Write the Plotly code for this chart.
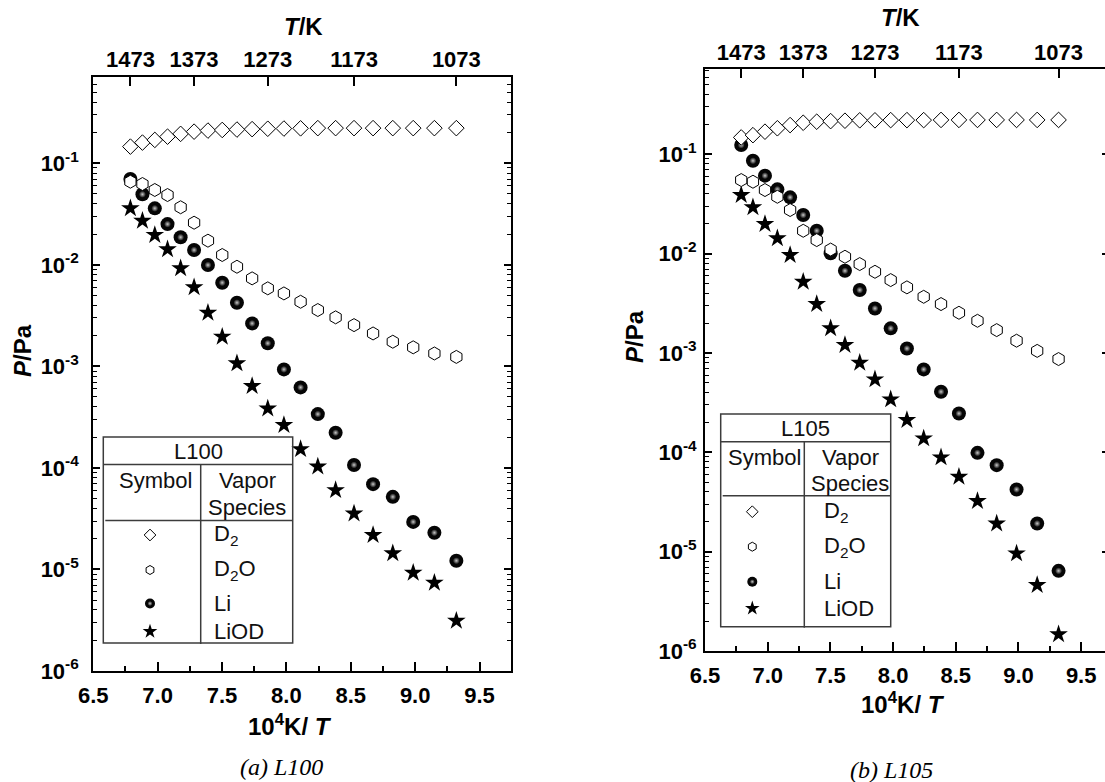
import plotly.graph_objects as go

W, H = 1105, 782

# ---------------- data ----------------
temps_K = [1473, 1453, 1433, 1413, 1393, 1373, 1353, 1333, 1313, 1293, 1273,
           1253, 1233, 1213, 1193, 1173, 1153, 1133, 1113, 1093, 1073]
inv_T = [1e4 / t for t in temps_K]          # 10^4 K / T

top_tick_T = [1473, 1373, 1273, 1173, 1073]
bottom_ticks = [6.5, 7.0, 7.5, 8.0, 8.5, 9.0, 9.5]
decades = [-6, -5, -4, -3, -2, -1]

L100_D2 = [0.146, 0.160, 0.170, 0.183, 0.195, 0.205, 0.210, 0.213, 0.215, 0.217, 0.219,
           0.220, 0.221, 0.222, 0.222, 0.222, 0.222, 0.222, 0.222, 0.222, 0.222]
L100_D2O = [0.0659, 0.0625, 0.0546, 0.0487, 0.0369, 0.0260, 0.0173, 0.0125, 0.00958, 0.00736, 0.00587,
            0.00523, 0.00433, 0.00359, 0.00304, 0.00255, 0.00211, 0.00175, 0.00154, 0.00134, 0.00124]
L100_Li = [0.070, 0.0495, 0.0360, 0.0252, 0.0187, 0.0140, 0.00995, 0.00667, 0.00424, 0.00265, 0.00169,
           0.000934, 0.000621, 0.000339, 0.000222, 0.000107, 6.92e-5, 5.19e-5, 2.94e-5, 2.30e-5, 1.22e-5]
L100_LiOD = [0.0360, 0.0272, 0.0197, 0.0142, 0.00925, 0.00600, 0.00337, 0.00196, 0.00107, 0.000640, 0.000385,
             0.000264, 0.000153, 0.000103, 6.04e-5, 3.56e-5, 2.18e-5, 1.44e-5, 9.27e-6, 7.38e-6, 3.12e-6]

L105_D2 = [0.148, 0.156, 0.169, 0.183, 0.197, 0.208, 0.213, 0.216, 0.218, 0.220, 0.220,
           0.221, 0.221, 0.221, 0.222, 0.222, 0.222, 0.222, 0.222, 0.222, 0.222]
L105_D2O = [0.0551, 0.0530, 0.0437, 0.0374, 0.0275, 0.0170, 0.0137, 0.0110, 0.00931, 0.00786, 0.00657,
            0.00542, 0.00458, 0.00368, 0.00311, 0.00254, 0.00211, 0.00170, 0.00133, 0.00105, 0.000869]
L105_Li = [0.124, 0.0862, 0.0610, 0.0444, 0.0369, 0.0245, 0.0170, 0.0101, 0.00672, 0.00430, 0.00281,
           0.00177, 0.00111, 0.000684, 0.000407, 0.000246, 9.88e-5, 7.43e-5, 4.23e-5, 1.92e-5, 6.41e-6]
L105_LiOD = [0.0389, 0.0293, 0.0199, 0.0143, 0.00968, 0.00521, 0.00311, 0.00177, 0.00120, 0.000796, 0.000542,
             0.000341, 0.000211, 0.000138, 8.89e-5, 5.67e-5, 3.23e-5, 1.92e-5, 9.60e-6, 4.61e-6, 1.47e-6]

species_labels = ["D<sub>2</sub>", "D<sub>2</sub>O", "Li", "LiOD"]
panel_names = ["L100", "L105"]
captions = ["(a) L100", "(b) L105"]

# ---------------- styling ----------------
SANS = "Liberation Sans, Arial, sans-serif"
SERIF = "Liberation Serif, Times New Roman, serif"
BLACK = "#000000"
TICKFONT = dict(family=SANS, size=22, color=BLACK, weight="bold")
TITLEFONT = dict(family=SANS, size=24, color=BLACK, weight="bold")
TABFONT = dict(family=SANS, size=22, color="#111111")

minor_vals = [m * 10 ** e for e in range(-6, 0) for m in range(2, 10)]


def px_x(v):
    return v / W


def px_y(v):
    return 1 - v / H


fig = go.Figure()


def add_panel(xa, ya, d2, d2o, li, liod):
    # Li spheres (black with a small highlight)
    fig.add_trace(go.Scatter(x=inv_T, y=li, xaxis=xa, yaxis=ya, mode="markers",
                             marker=dict(symbol="circle", size=14, color="#050505",
                                         line=dict(width=0)),
                             hoverinfo="skip", showlegend=False))
    fig.add_trace(go.Scatter(x=inv_T, y=li, xaxis=xa, yaxis=ya, mode="markers",
                             marker=dict(symbol="circle", size=7, color="#050505",
                                         gradient=dict(type="radial", color="#c8c8c8"),
                                         line=dict(width=0)),
                             hoverinfo="skip", showlegend=False))
    # LiOD stars
    fig.add_trace(go.Scatter(x=inv_T, y=liod, xaxis=xa, yaxis=ya, mode="markers",
                             marker=dict(symbol="star", size=14, color=BLACK, line=dict(width=0)),
                             hoverinfo="skip", showlegend=False))
    # D2O open hexagons
    fig.add_trace(go.Scatter(x=inv_T, y=d2o, xaxis=xa, yaxis=ya, mode="markers",
                             marker=dict(symbol="hexagon", size=13, color="white",
                                         line=dict(width=1, color=BLACK)),
                             hoverinfo="skip", showlegend=False))
    # D2 open diamonds
    fig.add_trace(go.Scatter(x=inv_T, y=d2, xaxis=xa, yaxis=ya, mode="markers",
                             marker=dict(symbol="diamond", size=12, color="white",
                                         line=dict(width=1, color=BLACK)),
                             hoverinfo="skip", showlegend=False))


add_panel("x", "y", L100_D2, L100_D2O, L100_Li, L100_LiOD)
add_panel("x2", "y2", L105_D2, L105_D2O, L105_Li, L105_LiOD)

# invisible helper traces so the top axes / right tick axis are drawn
for xa, ya, yy in [("x3", "y", L100_D2), ("x4", "y2", L105_D2), ("x2", "y3", L105_D2)]:
    fig.add_trace(go.Scatter(x=inv_T, y=yy, xaxis=xa, yaxis=ya, mode="markers",
                             marker=dict(opacity=0), hoverinfo="skip", showlegend=False))

# ---------------- axes ----------------
panels = [
    dict(dom_x=[px_x(93.2), px_x(511)], dom_y=[px_y(671), px_y(77)],
         xr=[6.5, 9.744], yr=[-6, -0.150]),
    dict(dom_x=[px_x(705), 1.0], dom_y=[px_y(651), px_y(69.3)],
         xr=[6.5, 9.69], yr=[-6, -0.144]),
]

y_ticktext = ["10<sup>%d</sup>" % d for d in decades]
y_tickvals = [10.0 ** d for d in decades]

layout = dict(
    width=W, height=H, margin=dict(l=0, r=0, t=0, b=0, autoexpand=False),
    paper_bgcolor="white", plot_bgcolor="rgba(0,0,0,0)",
    showlegend=False,
)

for i, p in enumerate(panels):
    xn = "xaxis" if i == 0 else "xaxis2"
    yn = "yaxis" if i == 0 else "yaxis2"
    xid = "x" if i == 0 else "x2"
    yid = "y" if i == 0 else "y2"
    layout[xn] = dict(domain=p["dom_x"], range=p["xr"], anchor=yid, automargin=False,
                      tickvals=bottom_ticks, ticktext=["%.1f" % v for v in bottom_ticks],
                      ticks="inside", ticklen=9, tickwidth=1.5, tickcolor=BLACK,
                      minor=dict(dtick=0.25, tick0=6.5, ticks="inside", ticklen=5,
                                 tickwidth=1.5, tickcolor=BLACK),
                      showline=True, linewidth=2, linecolor=BLACK, mirror=False,
                      showgrid=False, zeroline=False, tickfont=TICKFONT,
                      ticklabelstandoff=4, fixedrange=True)
    layout[yn] = dict(domain=p["dom_y"], type="log", range=p["yr"], anchor=xid, automargin=False,
                      tickvals=y_tickvals, ticktext=y_ticktext,
                      ticks="inside", ticklen=7, tickwidth=1.5, tickcolor=BLACK,
                      minor=dict(tickvals=minor_vals, ticks="inside", ticklen=4,
                                 tickwidth=1.2, tickcolor=BLACK),
                      showline=True, linewidth=2, linecolor=BLACK,
                      mirror="ticks" if i == 0 else False,
                      showgrid=False, zeroline=False, tickfont=TICKFONT,
                      ticklabelstandoff=(8 if i == 0 else 2), fixedrange=True)
    tn = "xaxis3" if i == 0 else "xaxis4"
    layout[tn] = dict(overlaying=xid, side="top", anchor=yid, range=p["xr"], automargin=False,
                      tickvals=[1e4 / t for t in top_tick_T],
                      ticktext=[str(t) for t in top_tick_T],
                      ticks="inside", ticklen=9, tickwidth=1.5, tickcolor=BLACK,
                      showline=True, linewidth=2, linecolor=BLACK,
                      showgrid=False, zeroline=False, tickfont=TICKFONT,
                      ticklabelstandoff=-1, fixedrange=True)

layout["yaxis3"] = dict(overlaying="y2", side="right", anchor="x2", type="log", automargin=False,
                        range=panels[1]["yr"], tickvals=y_tickvals,
                        ticks="inside", ticklen=3, tickwidth=1.5, tickcolor=BLACK,
                        showticklabels=False, showline=False, showgrid=False,
                        zeroline=False, fixedrange=True)

fig.update_layout(**layout)

# ---------------- titles / captions ----------------
ann = []


def text(x, y, s, font, angle=0, xanchor="center"):
    ann.append(dict(x=px_x(x), y=px_y(y), xref="paper", yref="paper", text=s,
                    showarrow=False, font=font, textangle=angle,
                    xanchor=xanchor, yanchor="middle"))


text(290, 725, "10<sup>4</sup>K/ <i>T</i>", TITLEFONT)
text(903, 703, "10<sup>4</sup>K/ <i>T</i>", TITLEFONT)
text(303, 27, "<i>T</i>/K", TITLEFONT)
text(900, 18, "<i>T</i>/K", TITLEFONT)
text(22, 351, "<i>P</i>/Pa", TITLEFONT, angle=-90)
text(634, 337, "<i>P</i>/Pa", TITLEFONT, angle=-90)
text(281.7, 767, "<i>%s</i>" % captions[0], dict(family=SERIF, size=24, color=BLACK))
text(891.7, 770, "<i>%s</i>" % captions[1], dict(family=SERIF, size=24, color=BLACK))

# ---------------- tables (symbol legend) ----------------
tables = [
    dict(x0=103.3, x1=292.7, y0=437, y1=643, ytitle=464.5, yhead=520.5, xdiv=200.7,
         ty=451, hy1=480, hy2=507.5, rows=[535, 570, 603.5, 631.5],
         xsym=150, xtxt=211.7, xsymhead=155, xvap=247),
    dict(x0=720.7, x1=890.7, y0=414, y1=626.7, ytitle=441.7, yhead=495.7, xdiv=804.3,
         ty=428.5, hy1=457, hy2=483.5, rows=[511.7, 546.7, 581.7, 608.3],
         xsym=752.3, xtxt=821.7, xsymhead=764, xvap=850),
]
shapes = []
LC = "#3c3c3c"
for k, t in enumerate(tables):
    shapes.append(dict(type="rect", xref="paper", yref="paper",
                       x0=px_x(t["x0"]), x1=px_x(t["x1"]), y0=px_y(t["y1"]), y1=px_y(t["y0"]),
                       line=dict(color=LC, width=1.5), fillcolor="rgba(0,0,0,0)", layer="above"))
    shapes.append(dict(type="line", xref="paper", yref="paper",
                       x0=px_x(t["x0"]), x1=px_x(t["x1"]), y0=px_y(t["ytitle"]), y1=px_y(t["ytitle"]),
                       line=dict(color=LC, width=1.5)))
    shapes.append(dict(type="line", xref="paper", yref="paper",
                       x0=px_x(t["x0"] + 2), x1=px_x(t["x1"]), y0=px_y(t["yhead"]), y1=px_y(t["yhead"]),
                       line=dict(color=LC, width=1.5)))
    shapes.append(dict(type="line", xref="paper", yref="paper",
                       x0=px_x(t["xdiv"]), x1=px_x(t["xdiv"]), y0=px_y(t["y1"] + 1), y1=px_y(t["ytitle"]),
                       line=dict(color=LC, width=1.5)))
    text((t["x0"] + t["x1"]) / 2, t["ty"], panel_names[k], TABFONT)
    text(t["xsymhead"], t["hy1"], "Symbol", TABFONT)
    text(t["xvap"], t["hy1"], "Vapor", TABFONT)
    text(t["xvap"], t["hy2"], "Species", TABFONT)
    for lab, yy in zip(species_labels, t["rows"]):
        text(t["xtxt"], yy, lab, TABFONT, xanchor="left")

    # symbols in the table, placed in pixel space via a full-page hidden axis pair
    sy = t["rows"]
    sx = [t["xsym"]] * 4
    common = dict(xaxis="x5", yaxis="y5", mode="markers", hoverinfo="skip", showlegend=False)
    fig.add_trace(go.Scatter(x=sx[0:1], y=sy[0:1], marker=dict(symbol="diamond", size=9, color="white",
                                                           line=dict(width=1, color=BLACK)), **common))
    fig.add_trace(go.Scatter(x=sx[1:2], y=sy[1:2], marker=dict(symbol="hexagon", size=9, color="white",
                                                           line=dict(width=1, color=BLACK)), **common))
    fig.add_trace(go.Scatter(x=sx[2:3], y=sy[2:3], marker=dict(symbol="circle", size=10, color="#050505",
                                                           line=dict(width=0)), **common))
    fig.add_trace(go.Scatter(x=sx[2:3], y=sy[2:3], marker=dict(symbol="circle", size=5, color="#050505",
                                                           gradient=dict(type="radial", color="#c8c8c8"),
                                                           line=dict(width=0)), **common))
    fig.add_trace(go.Scatter(x=sx[3:4], y=sy[3:4], marker=dict(symbol="star", size=11, color=BLACK,
                                                           line=dict(width=0)), **common))

fig.update_layout(
    xaxis5=dict(domain=[0, 1], range=[0, W], anchor="y5", visible=False, fixedrange=True,
                automargin=False),
    yaxis5=dict(domain=[0, 1], range=[H, 0], anchor="x5", visible=False, fixedrange=True,
                automargin=False),
    annotations=ann, shapes=shapes,
)

fig.write_html("out.html", config=dict(displayModeBar=False),
               post_script="document.body.style.margin='0px';"
                           "document.body.style.overflow='hidden';")
